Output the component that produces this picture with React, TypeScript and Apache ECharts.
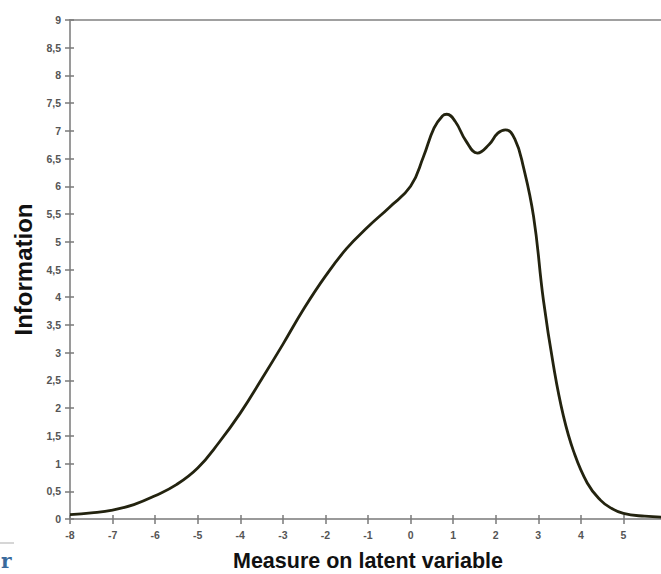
import React, { useEffect, useRef } from "react";
import * as echarts from "echarts";

const xValues = [-8, -7.5, -7, -6.5, -6, -5.5, -5, -4.5, -4, -3.5, -3, -2.5, -2, -1.5, -1, -0.5, 0, 0.3, 0.55, 0.75, 0.85, 1.05, 1.3, 1.57, 1.85, 2.05, 2.23, 2.45, 2.65, 2.89, 3.12, 3.36, 3.59, 3.83, 4.15, 4.46, 4.7, 5, 5.5, 6];
const infoValues = [0.08, 0.11, 0.16, 0.26, 0.42, 0.62, 0.92, 1.38, 1.91, 2.52, 3.15, 3.8, 4.38, 4.88, 5.27, 5.62, 6.0, 6.53, 7.05, 7.27, 7.3, 7.17, 6.82, 6.6, 6.76, 6.96, 7.02, 6.85, 6.35, 5.45, 3.95, 2.75, 1.86, 1.22, 0.65, 0.34, 0.2, 0.1, 0.05, 0.03];
const xTicks = { min: -8, max: 6, interval: 1 };
const yTicks = { min: 0, max: 9, interval: 0.5 };

export default function App() {
  const ref = useRef<HTMLDivElement>(null);
  useEffect(() => {
    document.body.style.margin = "0";
    const chart = echarts.init(ref.current!, null, { renderer: "svg" });
    const labelFont = { fontFamily: "Liberation Sans, Arial, sans-serif", fontWeight: "bold" as const, color: "#555", fontSize: 10.5 };
    const axisLine = { show: true, onZero: false, lineStyle: { color: "#9a9a9a", width: 2 } };
    const tick = { show: true, length: 5, lineStyle: { color: "#7a7a7a", width: 1.5 } };
    chart.setOption({
      animation: false,
      backgroundColor: "#ffffff",
      grid: { left: 70, right: -5, top: 20, bottom: 55, show: true, borderColor: "#a0a0a0", borderWidth: 2, containLabel: false, outerBoundsMode: "none" },
      xAxis: [
        {
          type: "value",
          ...xTicks,
          position: "bottom",
          axisLine,
          axisTick: tick,
          splitLine: { show: false },
          axisLabel: { ...labelFont, margin: 10, formatter: (v: number) => (v === 6 ? "" : String(v)) },
          name: "Measure on latent variable",
          nameLocation: "middle",
          nameGap: 31,
          nameTextStyle: { fontFamily: "Liberation Sans, Arial, sans-serif", fontWeight: "bold", fontSize: 21.5, color: "#111" },
        },
        {
          type: "value",
          ...xTicks,
          position: "bottom",
          axisLine: { show: false, onZero: false },
          axisTick: { ...tick, inside: true, length: 4 },
          splitLine: { show: false },
          axisLabel: { show: false },
        },
      ],
      yAxis: [
        {
          type: "value",
          ...yTicks,
          position: "left",
          axisLine,
          axisTick: tick,
          splitLine: { show: false },
          axisLabel: { ...labelFont, margin: 9, formatter: (v: number) => String(v).replace(".", ",") },
          name: "Information",
          nameLocation: "middle",
          nameGap: 35,
          nameTextStyle: { fontFamily: "Liberation Sans, Arial, sans-serif", fontWeight: "bold", fontSize: 24, color: "#111" },
        },
        {
          type: "value",
          ...yTicks,
          position: "left",
          axisLine: { show: false, onZero: false },
          axisTick: { ...tick, inside: true, length: 4 },
          splitLine: { show: false },
          axisLabel: { show: false },
        },
      ],
      series: [
        {
          type: "line",
          data: xValues.map((x, i) => [x, infoValues[i]]),
          smooth: 0.45,
          showSymbol: false,
          symbol: "none",
          lineStyle: { color: "#23230f", width: 2.8 },
          z: 5,
        },
      ],
      graphic: [
        { type: "line", shape: { x1: 0, y1: 543, x2: 14, y2: 543 }, style: { stroke: "#c8c8c8", lineWidth: 1.5 } },
        { type: "text", left: 1, top: 551, style: { text: "r", font: "bold 20px 'DejaVu Serif', serif", fill: "#3a6a9c" } },
      ],
    });
    return () => chart.dispose();
  }, []);
  return <div ref={ref} style={{ width: 661, height: 574 }} />;
}
